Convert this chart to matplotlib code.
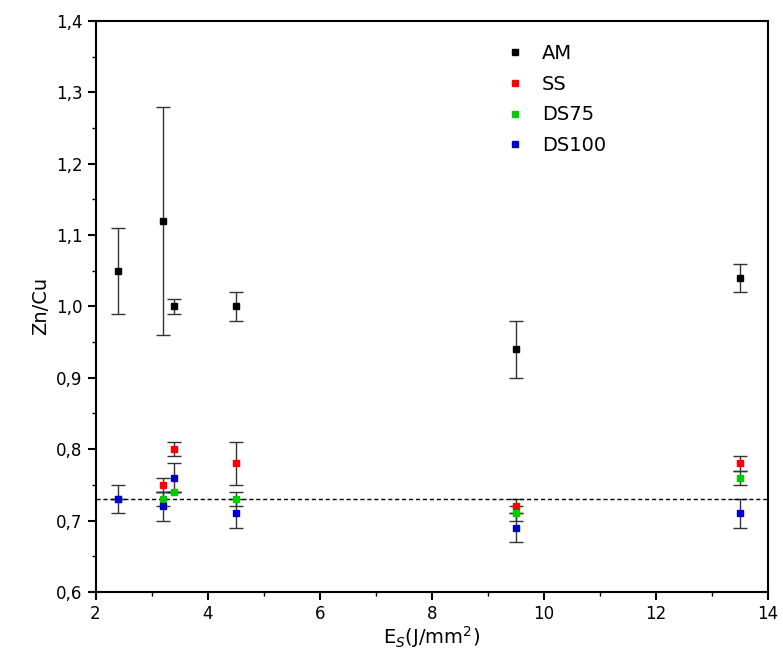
import matplotlib
matplotlib.use("Agg")
import matplotlib.pyplot as plt
from matplotlib.lines import Line2D

x = [2.4, 3.2, 3.4, 4.5, 9.5, 13.5]
am = [1.05, 1.12, 1.00, 1.00, 0.94, 1.04]
am_err = [0.06, 0.16, 0.01, 0.02, 0.04, 0.02]
x_ss = [3.2, 3.4, 4.5, 9.5, 13.5]
ss = [0.75, 0.80, 0.78, 0.72, 0.78]
ss_err = [0.01, 0.01, 0.03, 0.01, 0.01]
ds75 = [0.73, 0.73, 0.74, 0.73, 0.71, 0.76]
ds75_err = [0.0, 0.01, 0.0, 0.01, 0.01, 0.01]
ds100 = [0.73, 0.72, 0.76, 0.71, 0.69, 0.71]
ds100_err = [0.02, 0.02, 0.02, 0.02, 0.02, 0.02]
ref_line = 0.73

fig, ax = plt.subplots(figsize=(7.83, 6.54), dpi=100)
fig.subplots_adjust(left=0.122, right=0.981, top=0.968, bottom=0.095)

ekw = dict(fmt="s", ms=4, ecolor="#333333", elinewidth=1, capsize=5, capthick=1)
series = [("AM", x, am, am_err, "black"),
          ("SS", x_ss, ss, ss_err, "#ff0000"),
          ("DS75", x, ds75, ds75_err, "#00cc00"),
          ("DS100", x, ds100, ds100_err, "#0000cc")]
handles = []
for name, xs, ys, es, c in series:
    ax.errorbar(xs, ys, yerr=es, color=c, **ekw)
    handles.append(Line2D([], [], marker="s", ms=4, ls="none", color=c, label=name))
ax.axhline(ref_line, color="black", ls=(0, (3, 2)), lw=1)

ax.set_xlim(2, 14)
ax.set_ylim(0.6, 1.4)
ax.set_xticks([2, 4, 6, 8, 10, 12, 14])
yt = [0.6 + 0.1 * i for i in range(9)]
ax.set_yticks(yt)
ax.set_yticklabels([f"{v:.1f}".replace(".", ",") for v in yt])
ax.set_xticks([3, 5, 7, 9, 11, 13], minor=True)
ax.set_yticks([0.65 + 0.1 * i for i in range(8)], minor=True)
ax.tick_params(which="major", direction="out", length=6, width=1.5, labelsize=12)
ax.tick_params(which="minor", direction="out", length=3, width=1)
for s in ax.spines.values():
    s.set_linewidth(1.5)
ax.set_xlabel(r"E$_S$(J/mm$^2$)", fontsize=14, labelpad=1)
ax.set_ylabel("Zn/Cu", fontsize=14)

ax.legend(handles=handles, loc="upper left", bbox_to_anchor=(0.58, 0.99), frameon=False,
          fontsize=14, handlelength=1.2, handletextpad=0.8, labelspacing=0.6)

fig.savefig("out.png", dpi=100)
